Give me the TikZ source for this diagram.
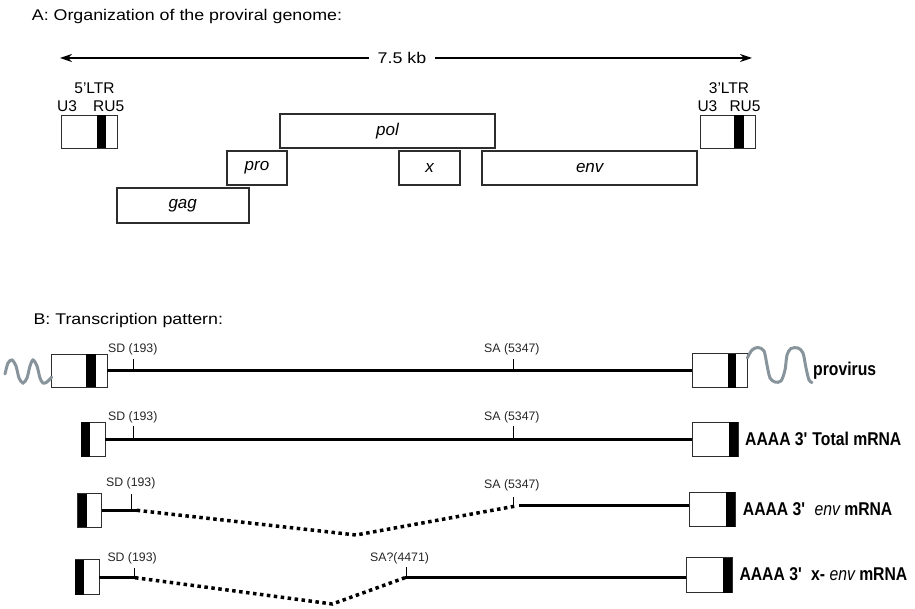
\documentclass[tikz,border=0pt]{standalone}
\usepackage{fontspec}
\setmainfont{Liberation Sans}
\newfontfamily\titlefont{Liberation Sans}[FakeStretch=1.15]
\newfontfamily\narrowfont{Liberation Sans}[FakeStretch=0.85]
\usetikzlibrary{arrows.meta}
\definecolor{wavegray}{RGB}{135,148,155}
\definecolor{boxgray}{RGB}{45,45,45}
\begin{document}
\begin{tikzpicture}[x=1pt,y=-1pt,
  title/.style={anchor=base west, inner sep=0, font=\titlefont\fontsize{15.5}{18}\selectfont},
  ltrlab/.style={anchor=base, inner sep=0, font=\fontsize{15.5}{18}\selectfont},
  genebox/.style={draw=boxgray, line width=2pt, inner sep=0, outer sep=0, font=\itshape\fontsize{17}{20}\selectfont},
  ltrbox/.style={draw=boxgray, line width=1pt, inner sep=0, outer sep=0, fill=white},
  smalllab/.style={anchor=base west, inner sep=0, text=black!85, font=\fontsize{12.3}{14}\selectfont},
  biglab/.style={anchor=base west, inner sep=0, font=\narrowfont\bfseries\fontsize{18.5}{22}\selectfont},
  rna/.style={line width=3pt},
  intron/.style={line width=3.5pt, dash pattern=on 3.5pt off 3.5pt},
  tickline/.style={line width=0.8pt},
  wave/.style={draw=wavegray, line width=3pt, line cap=round}
]
\useasboundingbox (0,0) rectangle (915,609);

% ---------- Part A ----------
\node[title] (titleA) at (31.7,20.7) {A: Organization of the proviral genome:};

\node[inner xsep=9pt, inner ysep=0, fill=white, font=\titlefont\fontsize{15.5}{18}\selectfont] (kb) at (402,58) {7.5 kb};
\coordinate (aL) at (60,58);
\coordinate (aR) at (752,58);
\draw[line width=1.3pt, -{Stealth[length=12pt,width=8pt]}] (kb.west) -- (aL);
\draw[line width=1.3pt, -{Stealth[length=12pt,width=8pt]}] (kb.east) -- (aR);

% LTRs
\node[ltrlab] (ltr5lab) at (94.5,94) {5'LTR};
\node[ltrlab, anchor=base west] (u3a) at (57,111.7) {U3};
\node[ltrlab, anchor=base west] (ru5a) at (93,111.7) {RU5};
\node[ltrbox, minimum width=55.6pt, minimum height=33.3pt] (ltr5) at (89.5,131.7) {};
\fill (97.3,115) rectangle (106,148.3);

\node[ltrlab] (ltr3lab) at (729,93.3) {3'LTR};
\node[ltrlab, anchor=base west] (u3b) at (697.3,111.7) {U3};
\node[ltrlab, anchor=base west] (ru5b) at (729.3,111.7) {RU5};
\node[ltrbox, minimum width=55.7pt, minimum height=33.3pt] (ltr3) at (727.9,131.7) {};
\fill (734.3,115) rectangle (744,148.3);

% genes
\node[genebox, minimum width=215pt, minimum height=33.4pt] (pol) at (387.5,131) {pol};
\node[genebox, minimum width=60.6pt, minimum height=34.3pt] (pro) at (257,167.8) {pro};
\node[genebox, minimum width=60.7pt, minimum height=34.3pt] (xg) at (429.7,167.8) {x};
\node[genebox, minimum width=215.3pt, minimum height=34.3pt] (env) at (589.7,167.8) {env};
\node[genebox, minimum width=132pt, minimum height=34.4pt] (gag) at (182.7,205.5) {gag};

% ---------- Part B ----------
\node[title] (titleB) at (33.3,324) {B: Transcription pattern:};

% Row 1: provirus
\node[ltrbox, minimum width=55.6pt, minimum height=33pt] (p1L) at (79.5,370.5) {};
\fill (86,354) rectangle (96,387);
\node[ltrbox, minimum width=55pt, minimum height=34pt] (p1R) at (719.8,370.5) {};
\fill (727.7,353.5) rectangle (736,387.5);
\draw[rna] (p1L.east) -- (p1R.west);
\coordinate (sd1) at (133.3,370.5);
\coordinate (sa1) at (513.3,370.5);
\draw[tickline] (sd1) -- ++(0,-12);
\draw[tickline] (sa1) -- ++(0,-12);
\node[smalllab] (sd1lab) at (108,352.7) {SD (193)};
\node[smalllab] (sa1lab) at (484,352.7) {SA (5347)};
\draw[wave] plot[smooth] coordinates {(5,374) (8,363) (12,360) (16,366) (19,378) (23,383) (27,378) (30,366) (33,360) (37,366) (40,378) (43,383) (47,382) (51.7,377)};
\draw[wave] plot[smooth] coordinates {(747.3,358) (752,350) (758,347.5) (764,351) (767,365) (770,378) (775,382) (781,381) (785,370) (787,355) (791,348.5) (798,348) (803,353) (806,368) (809,380) (812,382.5)};
\node[biglab] (provirus) at (813,375) {provirus};

% Row 2: total mRNA
\node[ltrbox, minimum width=24pt, minimum height=34.4pt] (t2L) at (93,439.5) {};
\fill (81,422.3) rectangle (90,456.7);
\node[ltrbox, minimum width=46pt, minimum height=34.4pt] (t2R) at (715.3,439.5) {};
\fill (728.7,422.3) rectangle (738.3,456.7);
\draw[rna] (t2L.east) -- (t2R.west);
\coordinate (sd2) at (133.3,439.5);
\coordinate (sa2) at (513.3,439.5);
\draw[tickline] (sd2) -- ++(0,-14);
\draw[tickline] (sa2) -- ++(0,-14);
\node[smalllab] (sd2lab) at (108,420.7) {SD (193)};
\node[smalllab] (sa2lab) at (484,420.7) {SA (5347)};
\node[biglab] (total) at (745,445) {AAAA 3\textquotesingle\ Total mRNA};

% Row 3: env mRNA
\node[ltrbox, minimum width=24pt, minimum height=33.7pt] (e3L) at (89.7,510.3) {};
\fill (77.7,493.5) rectangle (87.3,527.2);
\node[ltrbox, minimum width=45.7pt, minimum height=34.4pt] (e3R) at (712.2,509.5) {};
\fill (725.7,492.3) rectangle (735,526.7);
\coordinate (sd3) at (136.7,510.3);
\coordinate (dip3) at (356,535);
\coordinate (sa3) at (516,506);
\coordinate (sa3b) at (519,505.5);
\draw[rna] (e3L.east) -- (sd3);
\draw[intron] (sd3) -- (dip3) -- (sa3);
\draw[rna] (sa3b) -- (e3R.west |- sa3b);
\coordinate (sdt3) at (131.7,510);
\coordinate (sat3) at (513.3,506.5);
\draw[tickline] (sdt3) -- ++(0,-16.5);
\draw[tickline] (sat3) -- ++(0,-10);
\node[smalllab] (sd3lab) at (106,486.7) {SD (193)};
\node[smalllab] (sa3lab) at (484,488.3) {SA (5347)};
\node[biglab] (envm) at (742.7,515) {AAAA 3\textquotesingle\ \ {\mdseries\itshape env} mRNA};

% Row 4: x-env mRNA
\node[ltrbox, minimum width=24pt, minimum height=35pt] (x4L) at (87,577) {};
\fill (75,559.5) rectangle (84,594.5);
\node[ltrbox, minimum width=46.3pt, minimum height=35pt] (x4R) at (709.2,575) {};
\fill (723.3,557.5) rectangle (732.3,592.5);
\coordinate (sd4) at (135,577.7);
\coordinate (dip4) at (332.3,604);
\coordinate (sa4) at (405,577.7);
\draw[rna] (x4L.east |- sd4) -- (sd4);
\draw[intron] (sd4) -- (dip4) -- (sa4);
\draw[rna] (sa4) -- (x4R.west |- sa4);
\coordinate (sdt4) at (134,577.7);
\coordinate (sat4) at (406.7,577.7);
\draw[tickline] (sdt4) -- ++(0,-9.5);
\draw[tickline] (sat4) -- ++(0,-11);
\node[smalllab] (sd4lab) at (107.3,561.7) {SD (193)};
\node[smalllab] (sa4lab) at (370,561.7) {SA?(4471)};
\node[biglab] (xenvm) at (739.3,580) {AAAA 3\textquotesingle\ \ x- {\mdseries\itshape env} mRNA};
\end{tikzpicture}
\end{document}
